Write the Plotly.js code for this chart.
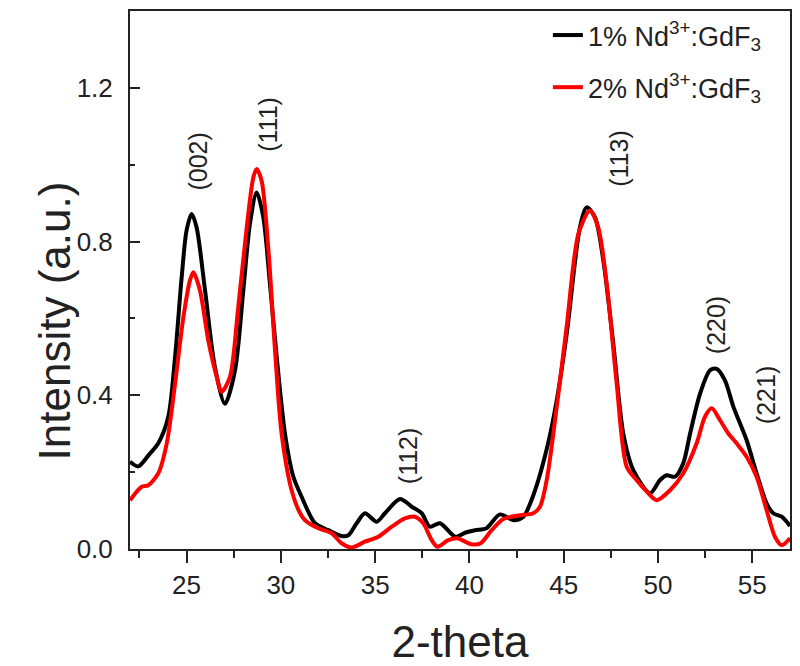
<!DOCTYPE html>
<html>
<head>
<meta charset="utf-8">
<script src="https://cdn.plot.ly/plotly-3.0.1.min.js"></script>
<style>html,body{margin:0;padding:0;background:#fff;}#chart{width:800px;height:666px;}</style>
</head>
<body>
<div id="chart"></div>
<script>
// 1% Nd3+:GdF3 (black)
const x1 = [22.0, 22.44, 23.0, 23.5, 24.03, 24.39, 24.74, 25.0, 25.27, 25.53, 25.98, 26.5, 27.04, 27.57, 28.01, 28.36, 28.72, 29.07, 29.42, 29.78, 30.22, 30.65, 31.1, 31.81, 32.52, 33.22, 33.58, 34.02, 34.46, 35.08, 35.52, 36.32, 36.94, 37.47, 37.9, 38.44, 39.25, 39.8, 40.3, 40.9, 41.62, 42.33, 42.86, 43.39, 44.1, 44.63, 45.16, 45.86, 46.22, 46.66, 47.1, 47.63, 48.16, 48.69, 49.58, 50.1, 50.46, 50.9, 51.34, 51.7, 52.23, 52.76, 53.11, 53.55, 54.0, 54.7, 55.23, 55.76, 56.11, 56.56, 57.0];
const y1 = [0.227, 0.215, 0.245, 0.275, 0.344, 0.50, 0.707, 0.829, 0.872, 0.837, 0.673, 0.474, 0.378, 0.465, 0.673, 0.846, 0.928, 0.863, 0.690, 0.500, 0.30, 0.19, 0.136, 0.067, 0.049, 0.034, 0.036, 0.067, 0.093, 0.071, 0.093, 0.130, 0.110, 0.093, 0.058, 0.067, 0.032, 0.043, 0.049, 0.054, 0.09, 0.075, 0.084, 0.14, 0.26, 0.387, 0.56, 0.837, 0.889, 0.863, 0.751, 0.534, 0.30, 0.205, 0.145, 0.179, 0.192, 0.188, 0.223, 0.30, 0.404, 0.465, 0.469, 0.439, 0.37, 0.283, 0.197, 0.119, 0.093, 0.084, 0.060];
// 2% Nd3+:GdF3 (red)
const x2 = [22.0, 22.62, 22.97, 23.5, 23.95, 24.39, 24.83, 25.18, 25.36, 25.71, 26.15, 26.6, 26.86, 27.3, 27.74, 28.19, 28.54, 28.72, 28.98, 29.33, 29.69, 30.04, 30.57, 31.0, 31.28, 31.99, 32.7, 33.22, 33.76, 34.46, 35.17, 35.88, 36.58, 37.11, 37.55, 38.0, 38.3, 38.88, 39.35, 40.12, 40.6, 41.18, 41.8, 42.68, 43.39, 43.74, 44.1, 44.63, 45.16, 45.78, 46.39, 46.83, 47.28, 47.81, 48.34, 48.87, 49.4, 49.93, 50.64, 51.34, 52.05, 52.49, 52.85, 53.29, 53.74, 54.17, 54.7, 55.23, 55.76, 56.2, 56.56, 57.0];
const y2 = [0.127, 0.162, 0.166, 0.197, 0.275, 0.43, 0.603, 0.699, 0.72, 0.673, 0.543, 0.448, 0.409, 0.448, 0.629, 0.837, 0.967, 0.989, 0.958, 0.785, 0.517, 0.30, 0.153, 0.095, 0.075, 0.054, 0.041, 0.015, 0.004, 0.019, 0.032, 0.058, 0.080, 0.084, 0.067, 0.023, 0.006, 0.023, 0.028, 0.012, 0.015, 0.049, 0.078, 0.088, 0.093, 0.11, 0.18, 0.37, 0.58, 0.82, 0.881, 0.837, 0.69, 0.43, 0.214, 0.179, 0.15, 0.127, 0.153, 0.197, 0.275, 0.344, 0.366, 0.335, 0.30, 0.275, 0.24, 0.188, 0.101, 0.032, 0.01, 0.028];
const seriesNames = ['1% Nd<sup>3+</sup>:GdF<sub>3</sub>', '2% Nd<sup>3+</sup>:GdF<sub>3</sub>'];
// peak labels (Miller indices)
const peakLabels = ['(002)', '(111)', '(112)', '(113)', '(220)', '(221)'];
const peakX = [25.6, 29.32, 36.74, 47.93, 53.12, 55.72];
const peakY = [1.008, 1.104, 0.244, 1.018, 0.582, 0.40];
const xTickVals = [25, 30, 35, 40, 45, 50, 55];
const yTickVals = [0.0, 0.4, 0.8, 1.2];

const FONT = 'Liberation Sans, Arial, sans-serif';
const traces = [
  {x: x1, y: y1, name: seriesNames[0], legendgroup: 'a', type: 'scatter', mode: 'lines',
   line: {color: '#000000', width: 4, shape: 'spline', smoothing: 0.8}},
  {x: x2, y: y2, name: seriesNames[1], legendgroup: 'b', type: 'scatter', mode: 'lines',
   line: {color: '#ff0000', width: 4, shape: 'spline', smoothing: 0.8}}
];
const annotations = peakLabels.map((t, i) => ({
  x: peakX[i], y: peakY[i], xref: 'x', yref: 'y', text: t, showarrow: false,
  textangle: -90, font: {family: FONT, size: 25, color: '#222'}
}));
annotations.push({
  xref: 'paper', yref: 'paper', x: -0.1545, y: 0.424, text: 'Intensity (a.u.)',
  showarrow: false, textangle: -90, font: {family: FONT, size: 44, color: '#222'}
});
const layout = {
  width: 800, height: 666,
  margin: {l: 130, r: 10, t: 11, b: 117},
  paper_bgcolor: '#fff', plot_bgcolor: '#fff',
  font: {family: FONT, color: '#222'},
  showlegend: true,
  legend: {x: 0.965, xanchor: 'right', y: 1.0, yanchor: 'top', bgcolor: 'rgba(0,0,0,0)',
           font: {family: FONT, size: 27, color: '#222'}, tracegroupgap: 14, traceorder: 'grouped'},
  xaxis: {
    range: [22, 57], tickvals: xTickVals, ticks: 'outside', ticklen: 12, tickwidth: 2, tickcolor: '#222',
    showline: true, linewidth: 2, linecolor: '#222', mirror: true, showgrid: false, zeroline: false,
    tickfont: {family: FONT, size: 26, color: '#222'},
    minor: {dtick: 2.5, tick0: 22.5, ticks: 'outside', ticklen: 7, tickwidth: 2, tickcolor: '#222', showgrid: false},
    title: {text: '2-theta', font: {family: FONT, size: 44, color: '#222'}, standoff: 28}
  },
  yaxis: {
    range: [0, 1.4], tickvals: yTickVals, tickformat: '.1f', ticks: 'inside', ticklen: 10, tickwidth: 2, tickcolor: '#222',
    showline: true, linewidth: 2, linecolor: '#222', mirror: true, showgrid: false, zeroline: false,
    tickfont: {family: FONT, size: 26, color: '#222'}, ticklabelstandoff: 10,
    minor: {dtick: 0.2, tick0: 0.2, ticks: 'inside', ticklen: 5, tickwidth: 2, tickcolor: '#222', showgrid: false}
  },
  annotations: annotations
};
Plotly.newPlot('chart', traces, layout, {displayModeBar: false, staticPlot: true});
</script>
</body>
</html>
